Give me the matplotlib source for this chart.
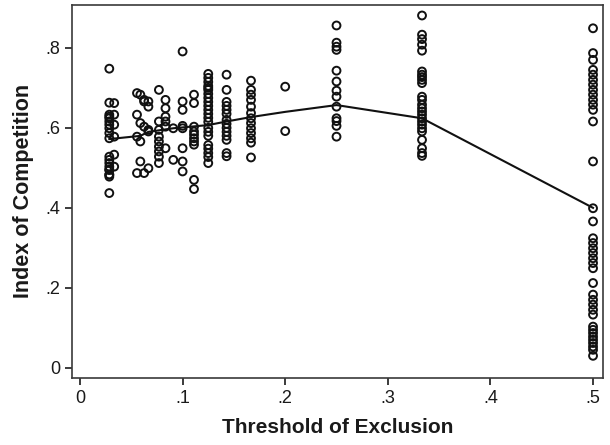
import matplotlib
matplotlib.use('Agg')
import matplotlib.pyplot as plt
from matplotlib.ticker import FuncFormatter

# --- data (threshold = 1/(M+1)) ---
x_035 = [1/35] * 20
y_035 = [0.748, 0.663, 0.633, 0.628, 0.624, 0.616, 0.608, 0.599, 0.587, 0.574,
         0.528, 0.520, 0.512, 0.503, 0.495, 0.483, 0.478, 0.437, 0.495, 0.483]
x_030 = [1/30] * 6
y_030 = [0.662, 0.633, 0.608, 0.578, 0.533, 0.503]

x_mid = [1/18, 1/17, 1/16, 1/16, 1/15, 1/15, 1/18, 1/17, 1/16, 1/15, 1/15,
         1/18, 1/17, 1/17, 1/18, 1/16, 1/15, 1/13, 1/12, 1/11, 1/11]
y_mid = [0.687, 0.683, 0.670, 0.666, 0.666, 0.653, 0.633, 0.612, 0.603, 0.595,
         0.591, 0.578, 0.566, 0.516, 0.487, 0.487, 0.499, 0.695, 0.549, 0.520, 0.599]

x_013 = [1/13] * 8
y_013 = [0.616, 0.595, 0.578, 0.566, 0.553, 0.541, 0.528, 0.512]
x_012 = [1/12] * 5
y_012 = [0.670, 0.649, 0.628, 0.616, 0.603]
x_010 = [1/10] * 8
y_010 = [0.791, 0.666, 0.645, 0.605, 0.549, 0.516, 0.491, 0.599]
x_009 = [1/9] * 10
y_009 = [0.683, 0.662, 0.603, 0.591, 0.583, 0.574, 0.566, 0.558, 0.470, 0.447]
x_008 = [1/8] * 22
y_008 = [0.735, 0.725, 0.715, 0.705, 0.695, 0.685, 0.675, 0.665, 0.655, 0.645,
         0.635, 0.625, 0.615, 0.600, 0.590, 0.580, 0.557, 0.548, 0.537, 0.527,
         0.512, 0.700]
x_007 = [1/7] * 14
y_007 = [0.733, 0.695, 0.665, 0.655, 0.645, 0.635, 0.620, 0.610, 0.600, 0.590,
         0.580, 0.570, 0.537, 0.529]
x_006 = [1/6] * 13
y_006 = [0.718, 0.695, 0.683, 0.670, 0.653, 0.637, 0.624, 0.612, 0.599, 0.587,
         0.574, 0.563, 0.526]
x_005 = [1/5] * 2
y_005 = [0.703, 0.592]
x_004 = [1/4] * 13
y_004 = [0.856, 0.813, 0.803, 0.795, 0.743, 0.716, 0.693, 0.678, 0.653, 0.624,
         0.617, 0.605, 0.578]
x_003 = [1/3] * 25
y_003 = [0.881, 0.833, 0.822, 0.808, 0.793, 0.741, 0.733, 0.727, 0.720, 0.712,
         0.678, 0.670, 0.658, 0.649, 0.641, 0.633, 0.624, 0.616, 0.608, 0.599,
         0.591, 0.570, 0.549, 0.537, 0.530]
x_002 = [1/2] * 38
y_002 = [0.849, 0.787, 0.770, 0.745, 0.733, 0.720, 0.708, 0.695, 0.683, 0.670,
         0.658, 0.645, 0.616, 0.516, 0.399, 0.366, 0.324, 0.312, 0.299, 0.287,
         0.274, 0.262, 0.249, 0.212, 0.183, 0.170, 0.158, 0.145, 0.133, 0.103,
         0.095, 0.087, 0.078, 0.070, 0.062, 0.053, 0.045, 0.030]

# fitted line (group means)
line_x = [1/35, 1/17, 1/15, 1/11, 1/8, 1/7, 1/6, 1/5, 1/4, 1/3, 1/2]
line_y = [0.572, 0.580, 0.590, 0.599, 0.607, 0.616, 0.627, 0.640, 0.657, 0.624, 0.400]

xs = (x_035 + x_030 + x_mid + x_013 + x_012 + x_010 + x_009 + x_008 + x_007
      + x_006 + x_005 + x_004 + x_003 + x_002)
ys = (y_035 + y_030 + y_mid + y_013 + y_012 + y_010 + y_009 + y_008 + y_007
      + y_006 + y_005 + y_004 + y_003 + y_002)

plt.rcParams['font.family'] = ['Liberation Sans', 'DejaVu Sans']

fig = plt.figure(figsize=(6.1, 4.45), dpi=100)
ax = fig.add_axes([0.118, 0.151, 0.8705, 0.838])

ax.scatter(xs, ys, s=32, facecolors='none', edgecolors='#111111', linewidths=1.4, zorder=3)
ax.plot(line_x, line_y, color='#111111', linewidth=1.5, zorder=2)

ax.set_xlim(-0.0078, 0.5097)
ax.set_ylim(-0.025, 0.9075)
ax.set_xticks([0, 0.1, 0.2, 0.3, 0.4, 0.5])
ax.set_yticks([0, 0.2, 0.4, 0.6, 0.8])

fmt = FuncFormatter(lambda v, p: '0' if abs(v) < 1e-9 else ('%.1f' % v).lstrip('0'))
ax.xaxis.set_major_formatter(fmt)
ax.yaxis.set_major_formatter(fmt)
ax.tick_params(direction='out', length=5, width=1.2, colors='#1a1a1a', labelsize=13)

for sp in ax.spines.values():
    sp.set_color('#3a3a3a')
    sp.set_linewidth(1.2)

ax.set_xlabel('Threshold of Exclusion', fontsize=15, fontweight='bold', color='#1a1a1a', labelpad=8)
ax.set_ylabel('Index of Competition', fontsize=15.5, fontweight='bold', color='#1a1a1a', labelpad=8)

fig.savefig('out.png', dpi=100)
